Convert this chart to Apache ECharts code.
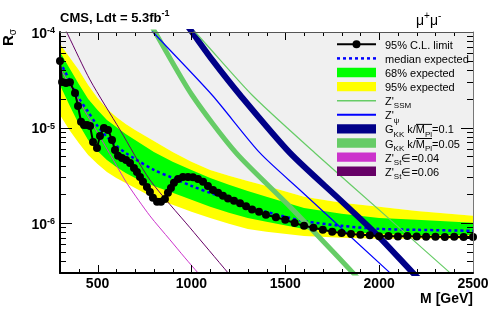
<!DOCTYPE html>
<html><head><meta charset="utf-8">
<script src="https://cdn.jsdelivr.net/npm/echarts@6/dist/echarts.min.js"></script>
<style>html,body{margin:0;padding:0;background:#fff}#c{width:498px;height:311px}</style>
</head><body><div id="c"></div>
<script>
const F = '"Liberation Sans", Arial, Helvetica, sans-serif';

// ---- axis ranges / tick labels ----
const xMin = 300, xMax = 2500;
const yMin = 3e-7, yMax = 1e-4;
const xTickVals = [300,400,500,600,700,800,900,1000,1100,1200,1300,1400,1500,1600,1700,1800,1900,2000,2100,2200,2300,2400,2500];
const xMajorTicks = [500,1000,1500,2000,2500];
const xLabels = [500,1000,1500,2000,2500];
const yTickVals = [3e-7,4e-7,5e-7,6e-7,7e-7,8e-7,9e-7,1e-6,2e-6,3e-6,4e-6,5e-6,6e-6,7e-6,8e-6,9e-6,1e-5,2e-5,3e-5,4e-5,5e-5,6e-5,7e-5,8e-5,9e-5,1e-4];
const yMajorTicks = [1e-6,1e-5,1e-4];
const yMajorExp = ['-6','-5','-4'];

// ---- expected limit bands ----
const bandMass = [300,350,400,450,500,550,600,650,700,800,900,1000,1100,1200,1300,1400,1600,1800,2000,2200,2500];
const yellowUp = [7.49e-5,5.48e-5,4.00e-5,2.79e-5,2.04e-5,1.57e-5,1.29e-5,1.09e-5,9.44e-6,7.24e-6,5.56e-6,4.37e-6,3.60e-6,3.12e-6,2.76e-6,2.45e-6,1.88e-6,1.63e-6,1.48e-6,1.34e-6,1.19e-6];
const greenUp  = [6.18e-5,4.20e-5,2.86e-5,1.99e-5,1.53e-5,1.20e-5,1.01e-5,8.57e-6,7.42e-6,5.56e-6,4.37e-6,3.60e-6,2.97e-6,2.51e-6,2.17e-6,1.88e-6,1.44e-6,1.25e-6,1.13e-6,1.08e-6,1.005e-6];
const median   = [4.86e-5,3.15e-5,2.04e-5,1.46e-5,1.04e-5,7.97e-6,6.42e-6,5.42e-6,4.69e-6,3.60e-6,2.97e-6,2.45e-6,2.07e-6,1.79e-6,1.51e-6,1.31e-6,1.05e-6,9.35e-7,8.69e-7,8.49e-7,8.29e-7];
const greenLo  = [2.79e-5,1.72e-5,1.09e-5,7.42e-6,5.69e-6,4.58e-6,3.87e-6,3.35e-6,2.97e-6,2.45e-6,2.07e-6,1.75e-6,1.48e-6,1.28e-6,1.13e-6,1.03e-6,8.69e-7,8.09e-7,7.71e-7,7.52e-7,7.52e-7];
const yellowLo = [1.35e-5,9.44e-6,6.90e-6,5.17e-6,4.16e-6,3.43e-6,2.97e-6,2.63e-6,2.33e-6,1.83e-6,1.55e-6,1.31e-6,1.13e-6,9.81e-7,8.69e-7,8.09e-7,7.34e-7,7.00e-7,6.83e-7,6.83e-7,6.83e-7];
const topEdge  = [1e-4,1e-4,1e-4,1e-4,1e-4,1e-4,1e-4,1e-4,1e-4,1e-4,1e-4,1e-4,1e-4,1e-4,1e-4,1e-4,1e-4,1e-4,1e-4,1e-4,1e-4];

// ---- observed 95% CL limit ----
const obsMass = [300,311,332,353,380,396,412,428,444,460,476,497,513,534,556,577,593,609,630,652,673,694,710,726,742,763,779,795,817,838,859,875,891,907,929,955,982,1008,1035,1062,1088,1115,1142,1168,1195,1227,1259,1291,1323,1360,1397,1450,1500,1550,1600,1650,1700,1750,1800,1850,1900,1950,2000,2050,2100,2150,2200,2250,2300,2350,2400,2450,2500];
const obsVal  = [4.98e-5,3.0e-5,2.93e-5,2.97e-5,2.30e-5,1.68e-5,1.15e-5,1.06e-5,1.06e-5,1.04e-5,7.07e-6,6.12e-6,8.17e-6,9.91e-6,9.44e-6,7.41e-6,5.83e-6,5.05e-6,4.81e-6,4.58e-6,4.26e-6,3.78e-6,3.43e-6,3.04e-6,2.70e-6,2.39e-6,2.12e-6,1.84e-6,1.67e-6,1.67e-6,1.79e-6,2.07e-6,2.33e-6,2.64e-6,2.90e-6,3.04e-6,3.04e-6,3.01e-6,2.90e-6,2.70e-6,2.45e-6,2.22e-6,2.07e-6,1.93e-6,1.81e-6,1.71e-6,1.61e-6,1.50e-6,1.39e-6,1.31e-6,1.22e-6,1.15e-6,1.08e-6,1.00e-6,9.35e-7,8.91e-7,8.49e-7,8.09e-7,7.89e-7,7.70e-7,7.53e-7,7.44e-7,7.26e-7,7.30e-7,7.25e-7,7.30e-7,7.25e-7,7.20e-7,7.20e-7,7.15e-7,7.20e-7,7.15e-7,7.15e-7];

// ---- theory curves ----
const zssmMass = [945,1019,1323,1658,2042,2378,2441];
const zssmVal  = [1.34e-4,1.0e-4,2.19e-5,5.42e-6,1.16e-6,3.01e-7,2.33e-7];
const zpsiMass = [742,795,1110,1365,1578,2058,2117];
const zpsiVal  = [1.34e-4,1.0e-4,2.19e-5,5.42e-6,2.22e-6,3.01e-7,2.37e-7];
const gkk01Mass = [955,1003,1115,1259,1525,1792,1989,2180,2244];
const gkk01Val  = [1.34e-4,1.0e-4,4.98e-5,2.19e-5,5.42e-6,1.75e-6,7.53e-7,3.01e-7,2.26e-7];
const gkk005Mass = [769,806,1003,1238,1515,1861,1909];
const gkk005Val  = [1.34e-4,1.0e-4,2.19e-5,5.42e-6,1.55e-6,3.01e-7,2.37e-7];
const zst004Mass = [300,407,513,593,662,779,886,966,1035,1078];
const zst004Val  = [4.20e-5,1.81e-5,7.98e-6,4.26e-6,2.51e-6,1.19e-6,6.67e-7,4.32e-7,3.01e-7,2.43e-7];
const zst006Mass = [321,343,460,620,779,993,1195,1238];
const zst006Val  = [1.13e-4,9.30e-5,3.15e-5,9.44e-6,2.83e-6,8.91e-7,3.01e-7,2.37e-7];

const pairs = (xs, ys) => xs.map((x, i) => [x, ys[i]]);

function bandSeries(upper, lower, color, z) {
  return {
    type: 'custom', z: z, silent: true,
    data: bandMass.map((m, i) => [m, upper[i], lower[i]]),
    encode: {x: 0, y: [1, 2]},
    renderItem: function (params, api) {
      if (params.dataIndex !== 0) return null;
      const pts = [];
      for (let i = 0; i < bandMass.length; i++) pts.push(api.coord([bandMass[i], upper[i]]));
      for (let i = bandMass.length - 1; i >= 0; i--) pts.push(api.coord([bandMass[i], lower[i]]));
      return {type: 'polygon', shape: {points: pts}, style: {fill: color, stroke: null}};
    }
  };
}
function theory(xs, ys, color, width, z) {
  return {type: 'line', data: pairs(xs, ys), smooth: 0.25, showSymbol: false, symbol: 'none',
    lineStyle: {color: color, width: width}, z: z, silent: true, clip: true};
}

const richLbl = {
  b: {fontFamily: F, fontWeight: 'bold', fontSize: 14, lineHeight: 16, fill: '#000'},
  s: {fontFamily: F, fontWeight: 'bold', fontSize: 9, lineHeight: 8, verticalAlign: 'top', fill: '#000'}
};

const series = [
  bandSeries(topEdge, yellowUp, '#f0f0f0', 1),
  bandSeries(yellowUp, yellowLo, '#ffff00', 1.1),
  bandSeries(greenUp, greenLo, '#00ff00', 1.2),
  {type: 'line', data: pairs(bandMass, median), smooth: 0.3, symbol: 'none', z: 2,
   lineStyle: {color: '#0000ff', width: 2.5, type: [3, 3]}, silent: true},
  theory(zst004Mass, zst004Val, '#cc33cc', 1, 3),
  theory(zst006Mass, zst006Val, '#660066', 1, 3),
  theory(gkk005Mass, gkk005Val, '#66cc66', 5, 3),
  theory(zpsiMass, zpsiVal, '#0000ff', 1.2, 3),
  theory(gkk01Mass, gkk01Val, '#000088', 6, 3),
  theory(zssmMass, zssmVal, '#66cc66', 1.2, 3),
  {type: 'line', data: pairs(obsMass, obsVal), symbol: 'circle', symbolSize: 8, showSymbol: true, z: 5,
   itemStyle: {color: '#000'}, lineStyle: {color: '#000', width: 2}, silent: true},
  // x ticks (bottom & top)
  {type: 'custom', z: 6, silent: true, data: xTickVals.map(v => [v, yMin]),
   renderItem: function (params, api) {
     const v = api.value(0);
     const b = api.coord([v, yMin]), t = api.coord([v, yMax]);
     const len = xMajorTicks.indexOf(v) >= 0 ? 8 : 4;
     const x = Math.round(b[0]) + 0.5;
     return {type: 'group', children: [
       {type: 'line', shape: {x1: x, y1: b[1], x2: x, y2: b[1] - len}, style: {stroke: '#000', lineWidth: 1}},
       {type: 'line', shape: {x1: x, y1: t[1], x2: x, y2: t[1] + len}, style: {stroke: '#000', lineWidth: 1}}
     ]};
   }},
  // y ticks (left & right) with decade labels
  {type: 'custom', z: 6, silent: true, data: yTickVals.map(v => [xMin, v]),
   renderItem: function (params, api) {
     const v = api.value(1);
     const l = api.coord([xMin, v]), r = api.coord([xMax, v]);
     const k = yMajorTicks.indexOf(v);
     const len = k >= 0 ? 12 : 6;
     const y = Math.round(l[1]) + 0.5;
     const ch = [
       {type: 'line', shape: {x1: l[0], y1: y, x2: l[0] + len, y2: y}, style: {stroke: '#000', lineWidth: 1}},
       {type: 'line', shape: {x1: r[0] - len, y1: y, x2: r[0], y2: y}, style: {stroke: '#000', lineWidth: 1}}
     ];
     if (k >= 0) ch.push({type: 'text', x: l[0] - 5, y: l[1] + 2,
       style: {text: '{b|10}{s|' + yMajorExp[k] + '}', rich: richLbl, align: 'right', verticalAlign: 'middle'}});
     return {type: 'group', children: ch};
   }}
];

// ---- legend (drawn as graphic) ----
const LX1 = 337, LX2 = 376, TX = 385;
const rowY = [44.3, 58.4, 72.5, 86.6, 100.7, 114.8, 128.9, 143, 157.1, 171.2];
const legRich = {
  a: {fontFamily: F, fontSize: 11, lineHeight: 16, fill: '#000'},
  s: {fontFamily: F, fontSize: 8, lineHeight: 5, verticalAlign: 'bottom', fill: '#000'}
};
const legTexts = ['{a|95% C.L. limit}', '{a|median expected}', '{a|68% expected}', '{a|95% expected}',
  "{a|Z'}{s|SSM}", "{a|Z'}{s|ψ}", '{a|G}{s|KK}{a| k/M}{s|Pl}{a|=0.1}', '{a|G}{s|KK}{a| k/M}{s|Pl}{a|=0.05}',
  "{a|Z'}{s|St}{a|∈=0.04}", "{a|Z'}{s|St}{a|∈=0.06}"];
const graphic = [];
graphic.push({type: 'line', shape: {x1: LX1, y1: rowY[0], x2: LX2, y2: rowY[0]}, style: {stroke: '#000', lineWidth: 2}, z: 20});
graphic.push({type: 'circle', shape: {cx: (LX1 + LX2) / 2, cy: rowY[0], r: 4}, style: {fill: '#000'}, z: 20});
graphic.push({type: 'line', shape: {x1: LX1, y1: rowY[1], x2: LX2, y2: rowY[1]}, style: {stroke: '#0000ff', lineWidth: 2.5, lineDash: [3, 3]}, z: 20});
const boxes = [[2, '#00ff00'], [3, '#ffff00'], [6, '#000088'], [7, '#66cc66'], [8, '#cc33cc'], [9, '#660066']];
boxes.forEach(b => graphic.push({type: 'rect', shape: {x: LX1, y: rowY[b[0]] - 4.7, width: LX2 - LX1, height: 9.4}, style: {fill: b[1]}, z: 20}));
graphic.push({type: 'line', shape: {x1: LX1, y1: rowY[4], x2: LX2, y2: rowY[4]}, style: {stroke: '#66cc66', lineWidth: 1.5}, z: 20});
graphic.push({type: 'line', shape: {x1: LX1, y1: rowY[5], x2: LX2, y2: rowY[5]}, style: {stroke: '#0000ff', lineWidth: 2}, z: 20});
legTexts.forEach((t, i) => graphic.push({type: 'text', x: TX, y: rowY[i] + 1.5, z: 20,
  style: {text: t, rich: legRich, align: 'left', verticalAlign: 'middle'}}));
// overline on M_Pl
[6, 7].forEach(i => graphic.push({type: 'line', shape: {x1: 416, y1: rowY[i] - 4.5, x2: 432, y2: rowY[i] - 4.5}, style: {stroke: '#000', lineWidth: 1}, z: 20}));
// titles
graphic.push({type: 'text', x: 60, y: 18, z: 20, style: {text: '{a|CMS, Ldt = 5.3fb}{s|-1}', align: 'left', verticalAlign: 'middle',
  rich: {a: {fontFamily: F, fontWeight: 'bold', fontSize: 13, lineHeight: 18, fill: '#000'},
         s: {fontFamily: F, fontWeight: 'bold', fontSize: 9, lineHeight: 9, verticalAlign: 'top', fill: '#000'}}}});
graphic.push({type: 'text', x: 416, y: 21, z: 20, style: {text: '{a|μ}{s|+}{a|μ}{s|-}', align: 'left', verticalAlign: 'middle',
  rich: {a: {fontFamily: F, fontSize: 14, lineHeight: 20, fill: '#000'},
         s: {fontFamily: F, fontSize: 10, lineHeight: 9, verticalAlign: 'top', fill: '#000'}}}});
graphic.push({type: 'text', x: 9, y: 29, rotation: Math.PI / 2, z: 20, style: {text: '{a|R}{s|σ}', align: 'right', verticalAlign: 'middle',
  rich: {a: {fontFamily: F, fontWeight: 'bold', fontSize: 15, lineHeight: 18, fill: '#000'},
         s: {fontFamily: F, fontSize: 10, lineHeight: 8, verticalAlign: 'bottom', fill: '#000'}}}});
graphic.push({type: 'text', x: 473, y: 299, z: 20, style: {text: 'M [GeV]', align: 'right', verticalAlign: 'middle',
  fontFamily: F, fontWeight: 'bold', fontSize: 14, fill: '#000'}});

const chart = echarts.init(document.getElementById('c'), null, {renderer: 'canvas'});
chart.setOption({
  animation: false,
  backgroundColor: '#ffffff',
  grid: {left: 60, right: 25, top: 32, bottom: 38},
  xAxis: [
    {type: 'value', min: xMin, max: xMax, interval: 100, z: 10,
     axisLine: {show: true, onZero: false, lineStyle: {color: '#000', width: 2}},
     axisTick: {show: false}, splitLine: {show: false},
     axisLabel: {formatter: v => (xLabels.indexOf(v) >= 0 ? String(v) : ''), fontFamily: F, fontWeight: 'bold',
                 fontSize: 14, color: '#000', margin: 4}},
    {type: 'value', position: 'top', min: xMin, max: xMax, z: 10,
     axisLine: {show: true, onZero: false, lineStyle: {color: '#555', width: 1}},
     axisTick: {show: false}, axisLabel: {show: false}, splitLine: {show: false}}
  ],
  yAxis: [
    {type: 'log', logBase: 10, min: yMin, max: yMax, z: 10,
     axisLine: {show: true, onZero: false, lineStyle: {color: '#000', width: 2}},
     axisTick: {show: false}, axisLabel: {show: false}, splitLine: {show: false}},
    {type: 'log', logBase: 10, position: 'right', min: yMin, max: yMax, z: 10,
     axisLine: {show: true, onZero: false, lineStyle: {color: '#777', width: 1}},
     axisTick: {show: false}, axisLabel: {show: false}, splitLine: {show: false}}
  ],
  series: series,
  graphic: graphic
});
</script></body></html>
